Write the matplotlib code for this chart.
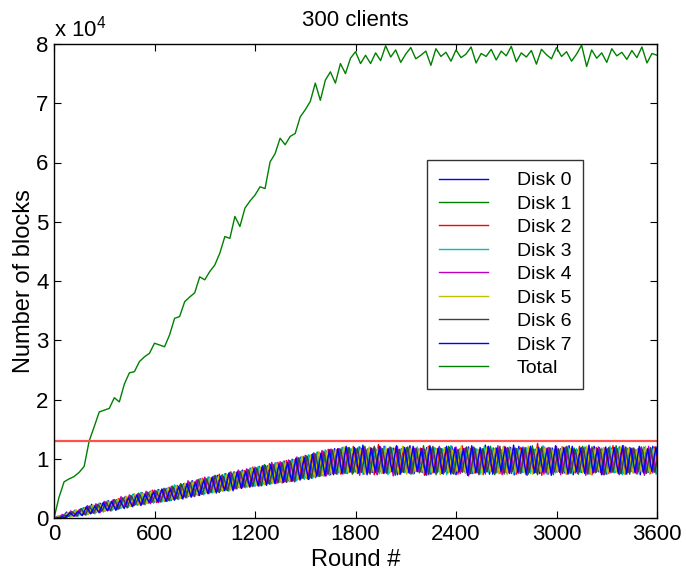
import numpy as np
import matplotlib
matplotlib.use("Agg")
import matplotlib.pyplot as plt

plt.rcParams['font.family'] = ['Liberation Sans', 'DejaVu Sans']
plt.rcParams['mathtext.fontset'] = 'custom'
plt.rcParams['mathtext.rm'] = 'Liberation Sans'
plt.rcParams['mathtext.default'] = 'regular'

# ---------------- data (values in hundreds of blocks) ----------------
total_step = 30          # rounds between Total samples
disk_step = 25           # rounds between disk samples
disk_offsets = [0, 6, 12, 19, 0, 6, 12, 19]   # sampling phase of each disk (rounds)
capacity = 130           # horizontal limit line (hundreds of blocks)

total = [0, 35, 61, 66, 70, 77, 87, 130, 154, 179, 182, 185, 203, 196, 226, 245, 247, 264,
         272, 278, 295, 292, 289, 309, 337, 340, 365, 373, 380, 407, 402, 416, 427, 447,
         475, 472, 509, 492, 523, 535, 545, 559, 556, 601, 615, 641, 630, 644, 649, 677,
         689, 703, 734, 705, 739, 753, 734, 767, 750, 776, 787, 767, 781, 767,
         785, 772, 797, 778, 790, 769, 783, 794, 775, 781, 788, 764, 792, 779, 786, 771,
         790, 777, 783, 795, 768, 784, 779, 791, 773, 788, 780, 796, 770, 785, 778, 789,
         766, 791, 782, 775, 794, 779, 787, 771, 783, 798, 762, 790, 776, 785, 769, 792,
         780, 786, 774, 789, 777, 795, 768, 784, 781]

disk0 = [0, 3, 1, 10, 3, 13, 6, 17, 7, 23, 9, 25,
         12, 29, 14, 31, 17, 36, 21, 40, 22, 43, 26, 45,
         27, 48, 29, 50, 30, 54, 34, 58, 36, 63, 40, 66,
         41, 69, 44, 72, 47, 75, 48, 78, 52, 81, 53, 84,
         54, 87, 58, 88, 59, 93, 61, 96, 63, 99, 64, 103,
         68, 105, 70, 111, 72, 113, 73, 117, 77, 119, 75, 116,
         78, 120, 74, 117, 77, 115, 79, 121, 76, 118, 73, 117,
         78, 122, 75, 116, 77, 119, 74, 118, 79, 115, 76, 121,
         73, 117, 78, 120, 75, 116, 77, 123, 74, 118, 78, 115,
         76, 119, 73, 121, 77, 117, 79, 116, 75, 120, 74, 118,
         78, 117, 76, 122, 73, 115, 77, 119, 75, 121, 78, 116,
         74, 118, 77, 120, 76, 117, 79, 115, 73, 119, 77, 121, 75]
disk1 = [0, 1, 5, 2, 11, 4, 15, 6, 19, 9, 23, 11,
         27, 14, 31, 15, 34, 19, 38, 21, 42, 24, 44, 26,
         46, 28, 50, 30, 54, 33, 58, 36, 61, 39, 64, 40,
         67, 43, 71, 44, 73, 47, 78, 50, 79, 53, 82, 55,
         85, 56, 90, 58, 91, 60, 94, 62, 97, 63, 101, 67,
         105, 69, 109, 70, 113, 74, 116, 75, 117, 77, 119, 74,
         116, 78, 121, 76, 118, 73, 117, 77, 120, 75, 115, 78,
         119, 74, 117, 76, 122, 78, 116, 73, 118, 77, 121, 75,
         115, 79, 118, 74, 120, 76, 117, 78, 121, 73, 116, 77,
         119, 75, 118, 78, 115, 74, 122, 76, 117, 79, 119, 73,
         116, 77, 120, 75, 118, 74, 121, 78, 115, 76, 119, 73,
         117, 78, 122, 75, 116, 77, 118, 74, 120, 76, 115, 79, 118]
disk2 = [0, 2, 2, 8, 4, 12, 5, 18, 8, 21, 11, 24,
         13, 27, 16, 33, 18, 35, 20, 38, 24, 41, 25, 47,
         26, 46, 28, 52, 32, 55, 33, 57, 37, 61, 38, 67,
         43, 67, 45, 74, 46, 73, 50, 77, 51, 80, 54, 86,
         56, 85, 57, 92, 60, 94, 59, 97, 62, 98, 66, 104,
         66, 107, 68, 110, 71, 116, 75, 115, 74, 118, 77, 121,
         75, 117, 78, 119, 73, 124, 76, 116, 78, 118, 74, 120,
         77, 115, 79, 118, 72, 121, 76, 117, 75, 119, 78, 116,
         74, 122, 77, 117, 76, 115, 73, 120, 79, 118, 75, 121,
         77, 116, 74, 119, 78, 117, 75, 126, 72, 118, 77, 115,
         79, 120, 74, 117, 76, 121, 78, 116, 73, 119, 77, 118,
         75, 122, 78, 116, 74, 119, 76, 117, 79, 115, 75, 120, 77]
disk3 = [0, 1, 6, 2, 12, 3, 16, 5, 21, 7, 25, 10,
         29, 12, 30, 16, 32, 18, 40, 22, 43, 22, 43, 25,
         48, 27, 48, 29, 56, 31, 56, 34, 60, 37, 66, 39,
         69, 42, 69, 45, 75, 45, 76, 49, 80, 51, 84, 54,
         87, 55, 87, 57, 93, 60, 96, 61, 99, 62, 100, 65,
         107, 67, 111, 71, 115, 72, 114, 74, 119, 76, 117, 78,
         120, 74, 116, 77, 118, 75, 121, 73, 117, 79, 116, 76,
         118, 74, 120, 77, 115, 75, 119, 78, 117, 73, 122, 76,
         116, 78, 119, 75, 117, 74, 121, 77, 118, 76, 115, 79,
         120, 73, 117, 77, 119, 75, 116, 78, 122, 74, 118, 76,
         115, 78, 119, 75, 117, 77, 120, 74, 116, 79, 118, 75,
         121, 76, 117, 73, 119, 78, 116, 75, 120, 77, 117, 74, 119]
disk4 = [0, 1, 6, 1, 12, 3, 14, 6, 21, 8, 24, 9,
         28, 13, 30, 14, 36, 20, 39, 21, 41, 23, 45, 24,
         47, 26, 48, 28, 53, 32, 55, 35, 63, 37, 64, 42,
         69, 41, 70, 45, 72, 48, 77, 49, 81, 51, 83, 53,
         86, 54, 88, 59, 94, 58, 95, 61, 98, 62, 103, 66,
         106, 66, 110, 72, 114, 71, 116, 76, 117, 74, 118, 77,
         117, 72, 119, 78, 116, 74, 120, 76, 118, 71, 121, 77,
         115, 75, 118, 79, 117, 72, 119, 76, 121, 74, 116, 78,
         120, 75, 117, 71, 119, 77, 115, 74, 118, 76, 122, 73,
         117, 78, 116, 75, 120, 72, 118, 77, 115, 74, 119, 76,
         121, 73, 118, 77, 116, 75, 119, 72, 117, 78, 120, 74,
         116, 76, 119, 73, 122, 77, 117, 75, 118, 72, 121, 76, 117]
disk5 = [0, 3, 2, 9, 2, 14, 5, 16, 6, 22, 10, 23,
         11, 28, 15, 32, 17, 37, 20, 41, 22, 42, 24, 46,
         28, 47, 29, 51, 31, 55, 33, 59, 37, 62, 39, 67,
         42, 68, 43, 70, 45, 74, 47, 77, 51, 80, 52, 85,
         55, 86, 56, 89, 58, 92, 60, 95, 61, 98, 65, 104,
         67, 106, 69, 112, 71, 114, 74, 116, 76, 120, 76, 118,
         77, 116, 74, 120, 78, 117, 75, 119, 77, 115, 76, 121,
         74, 118, 78, 116, 75, 120, 77, 117, 73, 119, 76, 115,
         79, 121, 75, 118, 77, 116, 74, 119, 78, 117, 75, 120,
         73, 118, 77, 115, 76, 121, 74, 117, 78, 119, 75, 116,
         77, 120, 74, 118, 79, 116, 76, 121, 73, 117, 78, 119,
         75, 116, 77, 120, 74, 118, 76, 115, 78, 121, 74, 117, 76]
disk6 = [0, 0, 5, 3, 10, 3, 16, 5, 20, 8, 23, 12,
         27, 12, 31, 15, 34, 17, 37, 23, 40, 23, 43, 27,
         45, 27, 50, 29, 52, 32, 57, 34, 60, 36, 65, 40,
         66, 43, 72, 43, 70, 46, 75, 49, 78, 52, 81, 53,
         84, 54, 89, 57, 90, 59, 93, 60, 96, 61, 102, 67,
         104, 67, 108, 70, 111, 74, 115, 74, 116, 75, 119, 76,
         118, 77, 115, 74, 121, 78, 117, 75, 119, 72, 116, 77,
         120, 75, 118, 78, 116, 73, 121, 76, 117, 79, 119, 74,
         116, 77, 120, 75, 118, 73, 117, 78, 115, 76, 121, 74,
         118, 79, 117, 75, 119, 77, 116, 73, 120, 76, 118, 78,
         117, 75, 121, 76, 115, 78, 118, 74, 120, 77, 116, 73,
         119, 77, 117, 75, 120, 74, 118, 78, 116, 75, 119, 77, 116]
disk7 = [0, 2, 1, 9, 3, 11, 4, 19, 7, 20, 9, 26,
         12, 28, 13, 30, 16, 34, 19, 39, 21, 40, 26, 44,
         27, 49, 28, 49, 30, 53, 32, 58, 35, 60, 38, 64,
         41, 69, 42, 70, 46, 76, 46, 78, 50, 79, 52, 83,
         54, 88, 55, 90, 58, 91, 60, 94, 62, 101, 64, 102,
         65, 108, 70, 109, 71, 115, 73, 117, 75, 121, 78, 119,
         76, 123, 73, 118, 77, 121, 75, 117, 78, 122, 74, 119,
         76, 121, 78, 117, 73, 122, 77, 118, 75, 121, 74, 119,
         78, 117, 72, 122, 76, 119, 77, 121, 74, 118, 79, 120,
         75, 123, 77, 118, 73, 121, 76, 119, 78, 117, 72, 122,
         77, 119, 74, 121, 78, 118, 75, 123, 76, 117, 73, 120,
         78, 119, 75, 122, 74, 118, 77, 121, 76, 117, 79, 120, 74]

disks = [disk0, disk1, disk2, disk3, disk4, disk5, disk6, disk7]
disk_labels = ['Disk 0', 'Disk 1', 'Disk 2', 'Disk 3', 'Disk 4', 'Disk 5', 'Disk 6', 'Disk 7']
x_ticks = [0, 600, 1200, 1800, 2400, 3000, 3600]
y_ticks = [0, 1, 2, 3, 4, 5, 6, 7, 8]

# MATLAB default colour order
colors = ['#0000ff', '#008000', '#ff0000', '#00bfbf', '#bf00bf', '#bfbf00', '#404040', '#0000ff']

# ---------------- figure ----------------
fig = plt.figure(figsize=(6.86, 5.78), dpi=100)
ax = fig.add_axes([54/686, 1-518/578, 603/686, 474/578])

scale = 100 / 1e4   # hundreds of blocks -> units of 1e4 blocks
for d, lab, c, off in zip(disks, disk_labels, colors, disk_offsets):
    x = np.arange(len(d)) * disk_step + off
    ax.plot(x, np.array(d) * scale, color=c, lw=1.0, label=lab)

xt = np.arange(len(total)) * total_step
ax.plot(xt, np.array(total) * scale, color='#008000', lw=1.0, label='Total')
ax.axhline(capacity * scale, color='#ff5050', lw=1.6)

ax.set_xlim(0, 3600)
ax.set_ylim(0, 8)
ax.set_xticks(x_ticks)
ax.set_yticks(y_ticks)
ax.tick_params(direction='in', top=True, right=True, length=5, width=0.8,
               labelsize=16, pad=4)
for s in ax.spines.values():
    s.set_linewidth(1.0)

ax.set_xlabel('Round #', fontsize=17, labelpad=3)
ax.set_ylabel('Number of blocks', fontsize=17, labelpad=1)
ax.set_title('300 clients', fontsize=16, pad=13)
ax.text(0.0, 1.005, r'x 10$^{4}$', transform=ax.transAxes, ha='left', va='bottom',
        fontsize=16)

leg = ax.legend(loc='upper left', bbox_to_anchor=(0.619, 0.755), fontsize=14,
                frameon=True, fancybox=False, edgecolor='black', handlelength=2.5,
                handletextpad=1.5, labelspacing=0.3, borderpad=0.6, borderaxespad=0)
leg.get_frame().set_linewidth(1.0)

fig.savefig('out.png', dpi=100)
